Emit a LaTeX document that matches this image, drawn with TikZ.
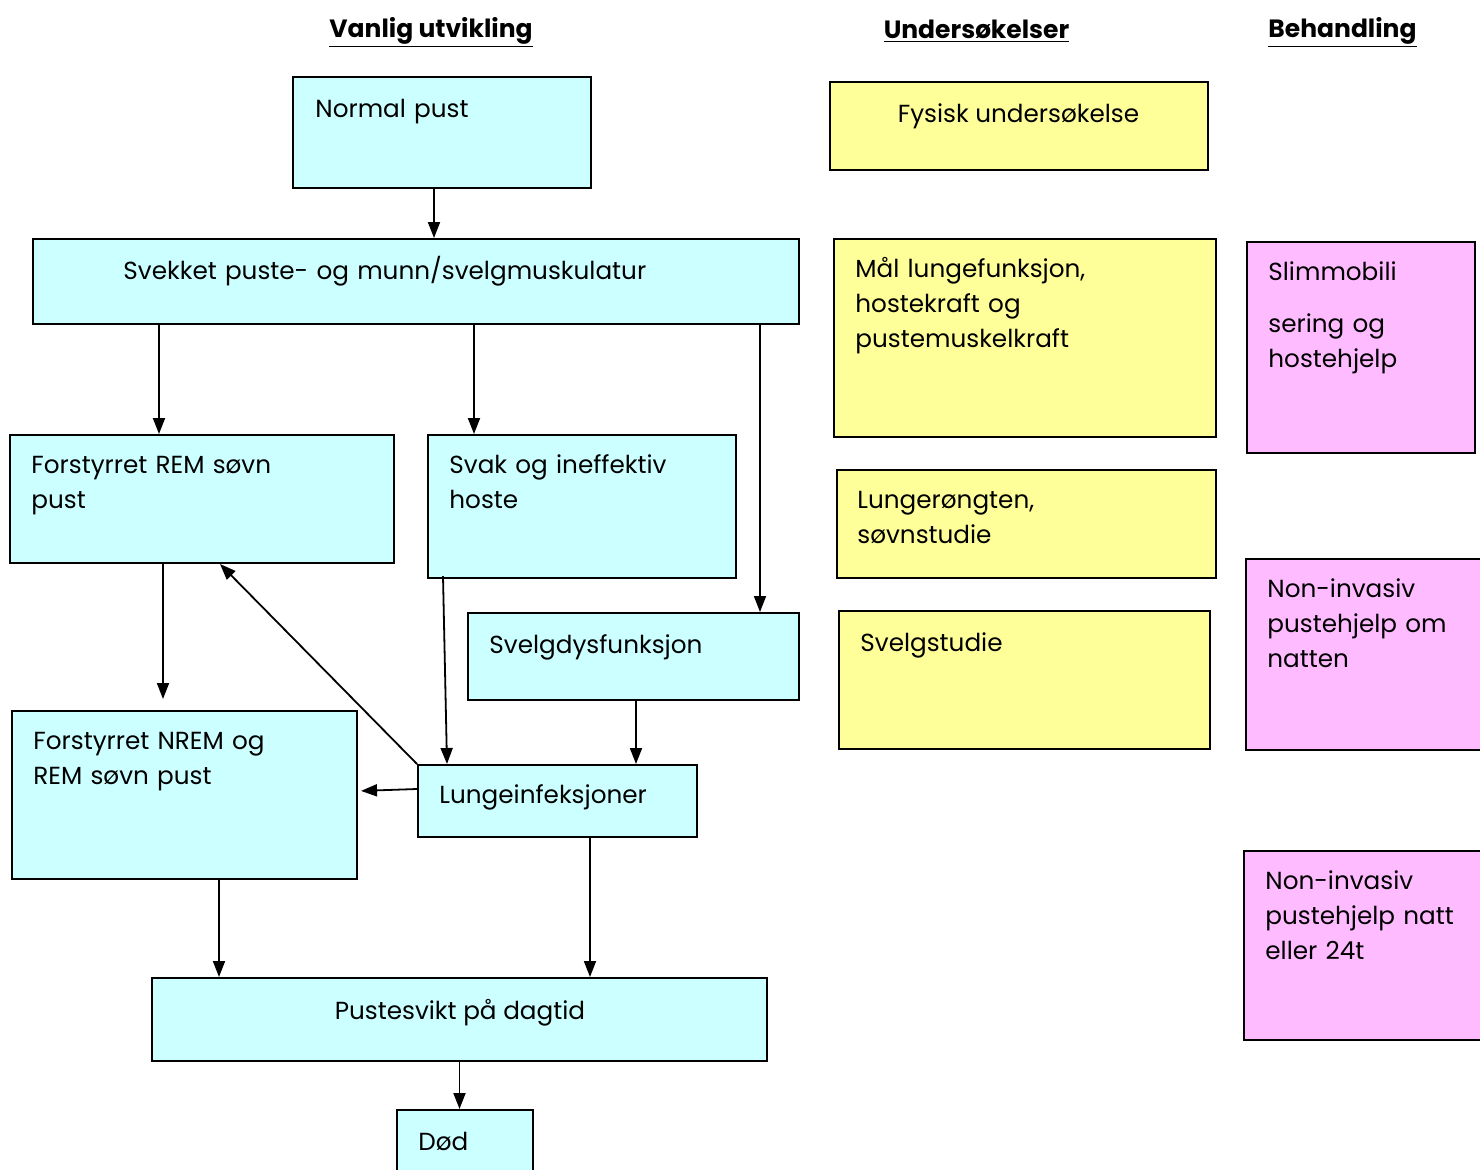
\documentclass[tikz,border=0pt]{standalone}
\usepackage{fontspec}
\setmainfont{Poppins}
\usetikzlibrary{arrows.meta,fit}
\definecolor{cyanbg}{RGB}{204,255,255}
\definecolor{yellowbg}{RGB}{255,255,153}
\definecolor{pinkbg}{RGB}{255,187,255}
\begin{document}
\begin{tikzpicture}[x=0.5pt,y=-0.5pt,
  box/.style={draw=black, line width=1pt, inner sep=0pt},
  cy/.style={box, fill=cyanbg},
  ye/.style={box, fill=yellowbg},
  pk/.style={box, fill=pinkbg},
  txt/.style={anchor=base west, inner sep=0pt, text width=200pt, align=left,
    font=\fontsize{12.35}{17.5}\selectfont},
  ctxt/.style={anchor=base, inner sep=0pt, font=\fontsize{12.35}{17.5}\selectfont},
  head/.style={anchor=base, inner sep=0pt, font=\bfseries\fontsize{12.5}{15}\selectfont},
  arr/.style={-{Triangle[width=6pt,length=8pt]}, line width=0.9pt}
]
\useasboundingbox (0,0) rectangle (1480,1169);
% headings
\node[head] (h1) at (431,37) {\underline{Vanlig utvikling}};
\node[head] (h2) at (976.5,38) {\underline{Undersøkelser}};
\node[head] (h3) at (1342.5,37) {\underline{Behandling}};
% cyan boxes
\node[cy, fit={(293,77) (591,188)}] (np) {};
\node[cy, fit={(33,239) (799,324)}] (sv) {};
\node[cy, fit={(10,435) (394,563)}] (frem) {};
\node[cy, fit={(428,435) (736,578)}] (svak) {};
\node[cy, fit={(468,613) (799,700)}] (svelg) {};
\node[cy, fit={(12,711) (357,879)}] (nrem) {};
\node[cy, fit={(418,765) (697,837)}] (lunge) {};
\node[cy, fit={(152,978) (767,1061)}] (pv) {};
\node[cy, fit={(397,1110) (533,1180)}] (dod) {};
% yellow boxes
\node[ye, fit={(830,82) (1208,170)}] (fys) {};
\node[ye, fit={(834,239) (1216,437)}] (maal) {};
\node[ye, fit={(837,470) (1216,578)}] (rtg) {};
\node[ye, fit={(839,611) (1210,749)}] (sstud) {};
% pink boxes
\node[pk, fit={(1247,242) (1475,453)}] (slim) {};
\node[pk, fit={(1246,559) (1490,750)}] (niv1) {};
\node[pk, fit={(1244,851) (1490,1040)}] (niv2) {};
% texts
\node[txt] (t-np) at (315,117) {Normal pust};
\node[txt, text width=300pt] (t-sv) at (123,279) {Svekket puste- og munn/svelgmuskulatur};
\node[txt] (t-frem) at (31,473) {Forstyrret REM søvn\\pust};
\node[txt] (t-svak) at (449,473) {Svak og ineffektiv\\hoste};
\node[txt] (t-svelg) at (489,653) {Svelgdysfunksjon};
\node[txt] (t-nrem) at (33,749) {Forstyrret NREM og\\REM søvn pust};
\node[txt] (t-lunge) at (439,803) {Lungeinfeksjoner};
\node[ctxt] (t-pv) at (460,1019) {Pustesvikt på dagtid};
\node[txt] (t-dod) at (418,1150) {Død};
\node[ctxt] (t-fys) at (1018.5,122) {Fysisk undersøkelse};
\node[txt] (t-maal) at (855,277) {Mål lungefunksjon,\\hostekraft og\\pustemuskelkraft};
\node[txt] (t-rtg) at (857,508) {Lungerøngten,\\søvnstudie};
\node[txt] (t-sstud) at (860,651) {Svelgstudie};
\node[txt] (t-slim) at (1268,280) {Slimmobili\\[8.5pt]sering og\\hostehjelp};
\node[txt] (t-niv1) at (1267,597) {Non-invasiv\\pustehjelp om\\natten};
\node[txt] (t-niv2) at (1265,889) {Non-invasiv\\pustehjelp natt\\eller 24t};
% connectors
\draw[arr] ([xshift=-4pt]np.south) coordinate (a1) -- (a1 |- sv.north);
\draw[arr] ([xshift=-128.5pt]sv.south) coordinate (a2) -- (a2 |- frem.north);
\draw[arr] ([xshift=29pt,yshift=1pt]sv.south) coordinate (a3) -- (a3 |- svak.north);
\draw[arr] ([xshift=172pt]sv.south) coordinate (a4) -- (a4 |- svelg.north);
\draw[arr, shorten >=5.5pt] ([xshift=-19.5pt]frem.south) coordinate (a5) -- (a5 |- nrem.north);
\draw[arr] ([xshift=-69.5pt,yshift=1.5pt]svak.south) -- ([xshift=-55.25pt]lunge.north);
\draw[arr] ([xshift=1.25pt]svelg.south) coordinate (a7) -- (a7 |- lunge.north);
\draw[arr] (lunge.north west) -- ([xshift=9pt]frem.south);
\draw[arr, shorten >=1.5pt] ([yshift=6pt]lunge.west) -- ([yshift=2pt]nrem.east);
\draw[arr] ([xshift=17.25pt]nrem.south) coordinate (a10) -- (a10 |- pv.north);
\draw[arr] ([xshift=16.25pt]lunge.south) coordinate (a11) -- (a11 |- pv.north);
\draw[arr] (pv.south) coordinate (a12) -- (a12 |- dod.north);
\end{tikzpicture}
\end{document}
